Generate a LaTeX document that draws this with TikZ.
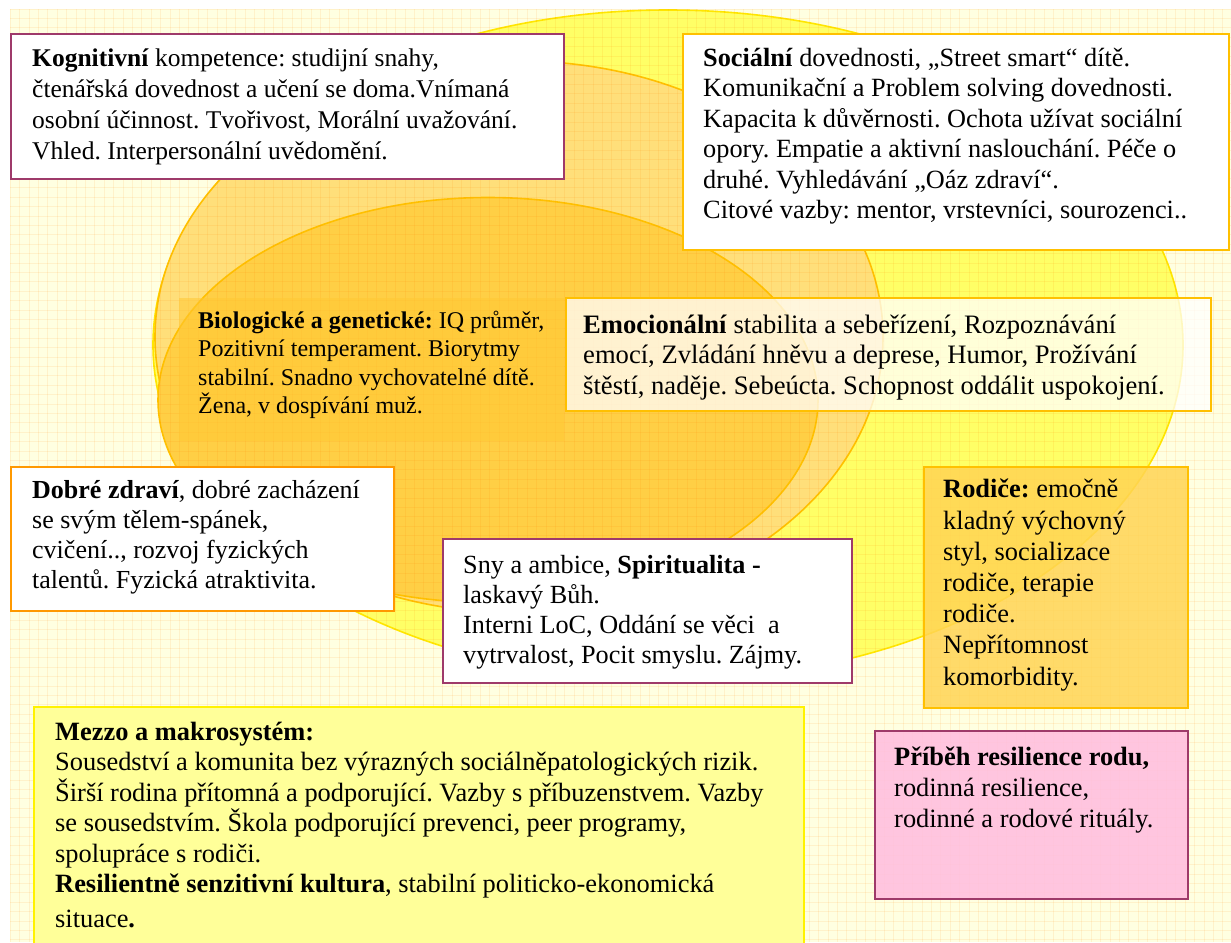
\documentclass[tikz,border=0pt]{standalone}
\usepackage{fontspec}
\setmainfont{Liberation Serif}
\usetikzlibrary{shapes.geometric}
\frenchspacing
\definecolor{bgyellow}{HTML}{FFFFE1}
\definecolor{bigfill}{HTML}{FFFF66}
\definecolor{bigline}{HTML}{FFE600}
\definecolor{midfill}{HTML}{FFDF7A}
\definecolor{goldline}{HTML}{FFC000}
\definecolor{biofill}{HTML}{FFCF45}
\definecolor{biobox}{HTML}{FFC834}
\definecolor{plum}{HTML}{9E3A6A}
\definecolor{orangeline}{HTML}{FF9900}
\definecolor{parentfill}{HTML}{FFD454}
\definecolor{pinkfill}{HTML}{FFBFDF}
\definecolor{mezzofill}{HTML}{FFFF99}
\definecolor{mezzoline}{HTML}{FFF200}
\tikzset{
  sphere/.style={ellipse, inner sep=0pt, line width=1.6pt},
  panel/.style={rectangle, anchor=north west, inner sep=0pt, line width=1.8pt},
  % anchored at the baseline of the LAST line of the block
  body/.style={anchor=base west, align=left, inner sep=0pt},
  gridline/.style={draw=orange, draw opacity=0.10, line width=0.6pt}
}
\begin{document}
\begin{tikzpicture}[x=1pt,y=-1pt]
\useasboundingbox (0,0) rectangle (1231,942);
% page background
\fill[bgyellow] (10,9) rectangle (1231,942);

% nested spheres of influence
\node[sphere, fill=bigfill, draw=bigline, minimum width=1030pt, minimum height=670pt] (outer) at (668,345) {};
\node[sphere, fill=midfill, draw=goldline, minimum width=728pt, minimum height=552pt] (middle) at (519,337) {};
\node[sphere, fill=biofill, draw=goldline, minimum width=660pt, minimum height=405pt] (inner) at (488,400) {};

% fine grid texture
\foreach \gx in {10,19.4,...,1231} \draw[gridline] (\gx,9) -- (\gx,942);
\foreach \gy in {9,18.4,...,942} \draw[gridline] (10,\gy) -- (1231,\gy);

% biological block
\node[panel, fill=biobox, fill opacity=0.55, minimum width=385pt, minimum height=143pt] (biobg) at (178,297) {};
\node[body, font=\fontsize{24}{28.5}\selectfont] (biotxt) at (198,413.5)
  {\textbf{Biologické a genetické:} IQ průměr,\\
   Pozitivní temperament. Biorytmy\\
   stabilní. Snadno vychovatelné dítě.\\
   Žena, v dospívání muž.};

% cognitive
\node[panel, fill=white, draw=plum, minimum width=553pt, minimum height=145pt] (kog) at (10,33) {};
\node[body, font=\fontsize{25.5}{31}\selectfont] (kogtxt) at (32,159)
  {\textbf{Kognitivní} kompetence: studijní snahy,\\
   čtenářská dovednost a učení se doma.Vnímaná\\
   osobní účinnost. Tvořivost, Morální uvažování.\\
   Vhled. Interpersonální uvědomění.};

% social
\node[panel, fill=white, draw=goldline, minimum width=546pt, minimum height=216pt] (soc) at (682,33) {};
\node[body, font=\fontsize{26.3}{30.5}\selectfont] (soctxt) at (703,218.5)
  {\textbf{Sociální} dovednosti, „Street smart“ dítě.\\
   Komunikační a Problem solving dovednosti.\\
   Kapacita k důvěrnosti. Ochota užívat sociální\\
   opory. Empatie a aktivní naslouchání. Péče o\\
   druhé. Vyhledávání „Oáz zdraví“.\\
   Citové vazby: mentor, vrstevníci, sourozenci..};

% emotional
\node[panel, fill=white, fill opacity=0.75, draw=goldline, minimum width=645pt, minimum height=113pt] (emo) at (565,297) {};
\node[body, font=\fontsize{26.6}{30.5}\selectfont] (emotxt) at (583,394)
  {\textbf{Emocionální} stabilita a sebeřízení, Rozpoznávání\\
   emocí, Zvládání hněvu a deprese, Humor, Prožívání\\
   štěstí, naděje. Sebeúcta. Schopnost oddálit uspokojení.};

% health
\node[panel, fill=white, draw=orangeline, minimum width=383pt, minimum height=144pt] (health) at (10,466) {};
\node[body, font=\fontsize{26}{30}\selectfont] (healthtxt) at (32,588)
  {\textbf{Dobré zdraví}, dobré zacházení\\
   se svým tělem-spánek,\\
   cvičení.., rozvoj fyzických\\
   talentů. Fyzická atraktivita.};

% dreams
\node[panel, fill=white, draw=plum, minimum width=409pt, minimum height=144pt] (dream) at (442,538) {};
\node[body, font=\fontsize{26.2}{30}\selectfont] (dreamtxt) at (463,663)
  {Sny a ambice, \textbf{Spiritualita -}\\
   laskavý Bůh.\\
   Interni LoC, Oddání se věci\ \ a\\
   vytrvalost, Pocit smyslu. Zájmy.};

% parents
\node[panel, fill=parentfill, fill opacity=0.85, draw=goldline, minimum width=264pt, minimum height=241pt] (par) at (923,466) {};
\node[body, font=\fontsize{26.4}{31.2}\selectfont] (partxt) at (943,685)
  {\textbf{Rodiče:} emočně\\
   kladný výchovný\\
   styl, socializace\\
   rodiče, terapie\\
   rodiče.\\
   Nepřítomnost\\
   komorbidity.};

% meso and macro system
\node[panel, fill=mezzofill, draw=mezzoline, minimum width=770pt, minimum height=240pt] (mezzo) at (33,706) {};
\node[body, font=\fontsize{26.4}{30.5}\selectfont] (mezzotxt) at (55,927)
  {\textbf{Mezzo a makrosystém:}\\
   Sousedství a komunita bez výrazných sociálněpatologických rizik.\\
   Širší rodina přítomná a podporující. Vazby s příbuzenstvem. Vazby\\
   se sousedstvím. Škola podporující prevenci, peer programy,\\
   spolupráce s rodiči.\\
   \textbf{Resilientně senzitivní kultura}, stabilní politicko-ekonomická\\[4pt]
   situace\textbf{.}};

% family story
\node[panel, fill=pinkfill, fill opacity=0.9, draw=plum, minimum width=313pt, minimum height=168pt] (story) at (874,730) {};
\node[body, font=\fontsize{26.4}{31}\selectfont] (storytxt) at (894,827)
  {\textbf{Příběh resilience rodu,}\\
   rodinná resilience,\\
   rodinné a rodové rituály.};
\end{tikzpicture}
\end{document}
